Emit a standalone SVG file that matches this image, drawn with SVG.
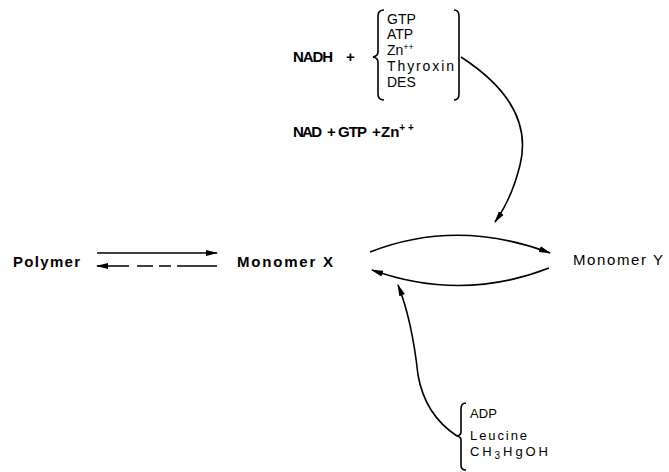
<svg xmlns="http://www.w3.org/2000/svg" width="669" height="472" viewBox="0 0 669 472">
<style>
text{font-family:"Liberation Sans",Arial,sans-serif;fill:#000}
.b{font-weight:bold;font-size:15px}
.n{font-size:15px}
.k{font-size:14px}
.s{font-size:13px}
.l{fill:none;stroke:#000;stroke-width:1.6}
</style>
<defs>
<marker id="ah" markerWidth="12" markerHeight="8" refX="11" refY="4" orient="auto" markerUnits="userSpaceOnUse">
<path d="M0,1 L12,4 L0,7 Z" fill="#000"/>
</marker>
</defs>
<rect width="669" height="472" fill="#fff"/>
<g id="polymer"><text class="b" x="13" y="267" textLength="67">Polymer</text></g>
<g id="monomerX"><text class="b" x="237" y="267" textLength="96">Monomer X</text></g>
<g id="monomerY"><text class="n" x="573" y="265" textLength="90">Monomer Y</text></g>
<g id="activators">
<text class="b" x="293" y="62" font-size="14" textLength="40">NADH</text>
<text class="b" x="346" y="62" font-size="14">+</text>
<path class="l" d="M384,10 Q378,10 378,16 L378,52 Q378,56 373,57 Q378,58 378,62 L378,94 Q378,100 384,100"/>
<text class="k" x="387" y="24">GTP</text>
<text class="k" x="387" y="39">ATP</text>
<text class="k" x="387" y="55">Zn<tspan dy="-5" font-size="9">++</tspan></text>
<text class="k" x="387" y="71" textLength="67">Thyroxin</text>
<text class="k" x="387" y="87">DES</text>
<path class="l" d="M454,10 Q459,10 459,16 L459,94 Q459,100 454,100"/>
</g>
<g id="products">
<text class="b" x="293" y="137" font-size="14" textLength="29">NAD</text>
<text class="b" x="327" y="137" font-size="14">+</text>
<text class="b" x="338" y="137" font-size="14" textLength="29">GTP</text>
<text class="b" x="372" y="137" font-size="14">+</text>
<text class="b" x="381" y="137" font-size="14">Zn<tspan dy="-6" font-size="10">+ +</tspan></text>
</g>
<g id="inhibitors">
<path class="l" d="M466,403 Q461,403 461,409 L461,432 Q461,435 457,436 Q461,437 461,440 L461,465 Q461,470 466,470"/>
<text class="s" x="470" y="418" textLength="27">ADP</text>
<text class="s" x="470" y="440" textLength="57">Leucine</text>
<text class="s" x="470" y="456" textLength="78">CH<tspan dy="3" font-size="10">3</tspan><tspan dy="-3">HgOH</tspan></text>
</g>
<g id="connectors">
<line class="l" x1="97" y1="253" x2="217" y2="253" marker-end="url(#ah)"/>
<line class="l" x1="217" y1="266" x2="97" y2="266" stroke-dasharray="40,6,12,6,16,8" marker-end="url(#ah)"/>
<path class="l" d="M370,252 Q457,218 550,253" marker-end="url(#ah)"/>
<path class="l" d="M549,268 Q462,302 372,270" marker-end="url(#ah)"/>
<path class="l" d="M461,57 Q535,105 520,165 Q512,198 495,222" marker-end="url(#ah)"/>
<path class="l" d="M457,436 Q425,415 418,375 Q412,320 398,285" marker-end="url(#ah)"/>
</g>
</svg>
